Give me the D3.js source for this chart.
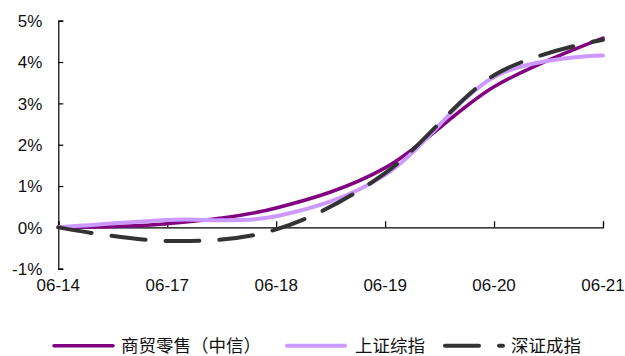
<!DOCTYPE html>
<html><head><meta charset="utf-8">
<script src="https://cdn.jsdelivr.net/npm/d3@7"></script>
<style>
html,body{margin:0;padding:0;background:#fff;}
svg{display:block;}
text{font-family:"Liberation Sans",Arial,sans-serif;}
.cjk{font-family:"Noto Sans CJK SC","Liberation Sans",sans-serif;}
</style></head>
<body>
<svg id="chart" width="625" height="356"></svg>
<script>
const categories = ["06-14","06-17","06-18","06-19","06-20","06-21"];
const seriesNames = ["商贸零售（中信）","上证综指","深证成指"];
const retail = [0, 0.09, 0.47, 1.44, 3.40, 4.58];
const shanghai = [0, 0.18, 0.27, 1.27, 3.64, 4.16];
const shenzhen = [0, -0.33, -0.05, 1.31, 3.68, 4.54];
const yTicks = [-1, 0, 1, 2, 3, 4, 5];

const colors = ["#800080", "#CC99FF", "#333333"];
const widths = [3.5, 4, 4];
const dashes = [null, null, "34,20"];
const seriesValues = [retail, shanghai, shenzhen];

const svg = d3.select("#chart");
const x = d3.scalePoint().domain(categories).range([58.3, 603]);
const y = d3.scaleLinear().domain([-1, 5]).range([268.7, 20.7]);

// Y axis
const yAxis = d3.axisRight(y).tickValues(yTicks).tickSize(5).tickFormat(d => d + "%");
const gy = svg.append("g").attr("transform", `translate(${x.range()[0]},0)`).call(yAxis);
gy.select(".domain").attr("stroke", "#000").attr("stroke-width", 1.2);
gy.selectAll(".tick line").attr("stroke", "#000").attr("stroke-width", 1.2);
gy.selectAll(".tick text").attr("x", -16).attr("text-anchor", "end")
  .attr("font-size", 17).attr("fill", "#111").attr("dy", "0.35em");

// X axis at 0%
const xAxis = d3.axisTop(x).tickSize(6).tickFormat("");
const gx = svg.append("g").attr("transform", `translate(0,${y(0)})`).call(xAxis);
gx.select(".domain").attr("stroke", "#000").attr("stroke-width", 1.2);
gx.selectAll(".tick line").attr("stroke", "#000").attr("stroke-width", 1.2);

// X labels at bottom
svg.append("g").selectAll("text").data(categories).join("text")
  .attr("x", d => x(d)).attr("y", 291)
  .attr("text-anchor", "middle").attr("font-size", 17).attr("fill", "#111")
  .text(d => d);

// Lines
const line = d3.line()
  .x((d, i) => x(categories[i]))
  .y(d => y(d))
  .curve(d3.curveCardinal.tension(0));

seriesValues.forEach((vals, k) => {
  const p = svg.append("path").datum(vals)
    .attr("d", line)
    .attr("fill", "none")
    .attr("stroke", colors[k])
    .attr("stroke-width", widths[k])
    .attr("stroke-linecap", "round")
    .attr("stroke-linejoin", "round");
  if (dashes[k]) p.attr("stroke-dasharray", dashes[k]);
});

// Legend
const legendItems = [
  {x1: 52, x2: 115, tx: 121},
  {x1: 285, x2: 347, tx: 355},
  {x1: 443, x2: 505, tx: 511}
];
const ly = 345.7;
legendItems.forEach((it, k) => {
  const l = svg.append("line")
    .attr("x1", it.x1 + 2).attr("x2", it.x2 - 2)
    .attr("y1", ly).attr("y2", ly)
    .attr("stroke", colors[k]).attr("stroke-width", widths[k])
    .attr("stroke-linecap", "round");
  if (dashes[k]) l.attr("stroke-dasharray", dashes[k]);
  svg.append("text").attr("class", "cjk")
    .attr("x", it.tx).attr("y", ly).attr("dy", "0.36em")
    .attr("font-size", 17.5).attr("fill", "#111")
    .text(seriesNames[k]);
});
</script>
</body></html>
